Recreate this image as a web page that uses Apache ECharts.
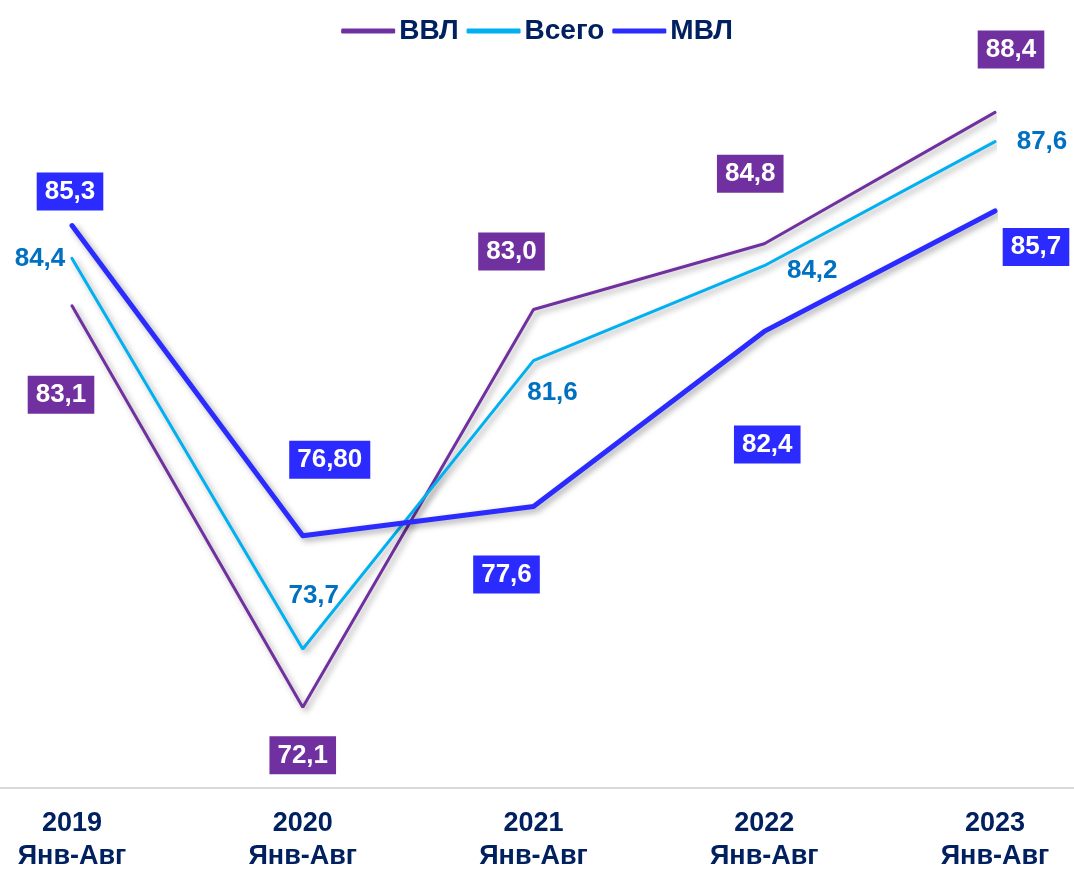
<!DOCTYPE html>
<html>
<head>
<meta charset="utf-8">
<script src="https://cdn.jsdelivr.net/npm/echarts@6/dist/echarts.min.js"></script>
<style>
  html, body { margin: 0; padding: 0; background: #fff; }
  #chart { width: 1074px; height: 873px; }
</style>
</head>
<body>
<div id="chart"></div>
<script>
// Data
var years = ['2019', '2020', '2021', '2022', '2023'];
var period = 'Янв-Авг';
var vvl = [83.1, 72.1, 83.0, 84.8, 88.4];
var total = [84.4, 73.7, 81.6, 84.2, 87.6];
var mvl = [85.3, 76.8, 77.6, 82.4, 85.7];
var mvlText = ['85,3', '76,80', '77,6', '82,4', '85,7'];

// Label placement (offsets from the point, px)
var vvlOffsets = [[-11, 89], [0, 48], [-22, -58], [-14, -70], [16, -63]];
var totalOffsets = [[-32, 0], [11, -53], [19, 32], [48, 5], [47, 0]];
var mvlOffsets = [[-2, -34], [27, -76], [-27, 68], [3, 113], [41, 36]];

var fmt = function (v) { return v.toFixed(1).replace('.', ','); };

var shadow = {
    shadowColor: 'rgba(0,0,0,0.35)',
    shadowBlur: 6,
    shadowOffsetX: 3,
    shadowOffsetY: 3
};

var boxLabel = function (bg) {
    return {
        show: true,
        position: 'inside',
        color: '#fff',
        fontFamily: 'Arial, "Liberation Sans", sans-serif',
        fontWeight: 'bold',
        fontSize: 26,
        backgroundColor: bg,
        padding: [7, 8, 5, 8]
    };
};

var build = function (values, offsets, texts) {
    return values.map(function (v, i) {
        return {
            value: v,
            label: {
                offset: offsets[i],
                formatter: texts ? texts[i] : fmt(v)
            }
        };
    });
};

var chart = echarts.init(document.getElementById('chart'));

chart.setOption({
    animation: false,
    textStyle: {
        fontFamily: 'Arial, "Liberation Sans", sans-serif'
    },
    legend: {
        top: 12,
        left: 'center',
        data: ['ВВЛ', 'Всего', 'МВЛ'],
        itemWidth: 54,
        itemHeight: 5,
        itemGap: 8,
        icon: 'roundRect',
        textStyle: {
            color: '#002060',
            fontWeight: 'bold',
            fontSize: 28,
            padding: [0, 0, 0, -1]
        }
    },
    grid: [
        { left: 72, right: 79, top: 54, bottom: 85 },
        { left: 0, right: 0, top: 54, bottom: 85 }
    ],
    xAxis: [
        {
            type: 'category',
            gridIndex: 0,
            boundaryGap: false,
            data: years,
            axisLine: { show: false },
            axisTick: { show: false },
            axisLabel: {
                margin: 23,
                color: '#002060',
                fontWeight: 'bold',
                fontSize: 27,
                lineHeight: 33,
                formatter: function (v) { return v + '\n' + period; }
            }
        },
        {
            type: 'value',
            gridIndex: 1,
            min: 0,
            max: 1,
            axisLine: { show: true, lineStyle: { color: '#d9d9d9', width: 2 } },
            axisTick: { show: false },
            axisLabel: { show: false },
            splitLine: { show: false }
        }
    ],
    yAxis: [
        { type: 'value', gridIndex: 0, min: 70, max: 90, show: false },
        { type: 'value', gridIndex: 1, min: 0, max: 1, show: false }
    ],
    series: [
        {
            name: 'ВВЛ',
            type: 'line',
            symbol: 'circle',
            symbolSize: 1,
            z: 3,
            itemStyle: { color: '#7030A0' },
            lineStyle: Object.assign({ color: '#7030A0', width: 3, cap: 'round' }, shadow),
            label: boxLabel('#7030A0'),
            data: build(vvl, vvlOffsets)
        },
        {
            name: 'Всего',
            type: 'line',
            symbol: 'circle',
            symbolSize: 1,
            z: 4,
            itemStyle: { color: '#00B0F0' },
            lineStyle: Object.assign({ color: '#00B0F0', width: 3, cap: 'round' }, shadow),
            label: {
                show: true,
                position: 'inside',
                color: '#0070C0',
                fontWeight: 'bold',
                fontSize: 26
            },
            data: build(total, totalOffsets)
        },
        {
            name: 'МВЛ',
            type: 'line',
            symbol: 'circle',
            symbolSize: 1,
            z: 5,
            itemStyle: { color: '#2B2BFF' },
            lineStyle: Object.assign({ color: '#2B2BFF', width: 5, cap: 'round', join: 'round' }, shadow),
            label: boxLabel('#2B2BFF'),
            data: build(mvl, mvlOffsets, mvlText)
        }
    ]
});
</script>
</body>
</html>
